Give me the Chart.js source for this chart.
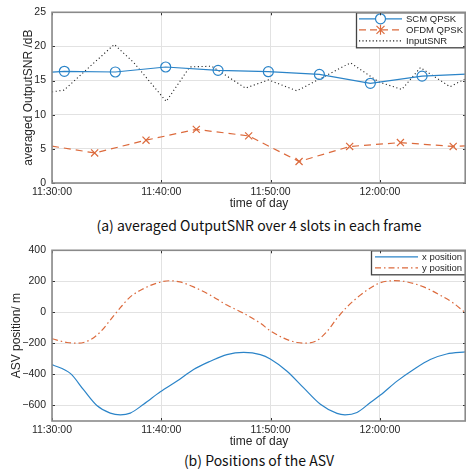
<!DOCTYPE html>
<html>
<head>
<meta charset="utf-8">
<script src="https://cdn.jsdelivr.net/npm/chart.js@4.4.0/dist/chart.umd.min.js"></script>
<style>
  body { margin: 0; background: #fff; width: 466px; height: 469px; overflow: hidden; position: relative; }
  .box { position: absolute; left: 0; width: 466px; height: 212px; }
  #snrBox { top: 0; }
  #posBox { top: 238px; }
  .cap { position: absolute; left: 52px; width: 414px; text-align: center;
         font-family: "Noto Sans CJK JP", sans-serif; font-size: 14px; color: #111; line-height: 16px; }
</style>
</head>
<body>
<div class="box" id="snrBox"><canvas id="snrChart" width="466" height="212"></canvas></div>
<div class="cap" style="top:217px">(a) averaged OutputSNR over 4 slots in each frame</div>
<div class="box" id="posBox"><canvas id="posChart" width="466" height="212"></canvas></div>
<div class="cap" style="top:452px">(b) Positions of the ASV</div>
<script>
// Time axis (minutes after 11:30:00)
const timeTicks = [0, 10, 20, 30];
const timeLabels = ['11:30:00', '11:40:00', '11:50:00', '12:00:00'];
const timeMax = 37.87;

// (a) averaged OutputSNR
const scmTime = [0, 1.13, 5.79, 10.4, 15.19, 19.79, 24.46, 29.12, 33.85, 37.87];
const scmSnr = [16.25, 16.36, 16.26, 16.99, 16.5, 16.3, 15.9, 14.6, 15.65, 15.95];
const ofdmTime = [0, 3.9, 8.6, 13.2, 17.99, 22.6, 27.23, 31.87, 36.7, 37.87];
const ofdmSnr = [5.4, 4.4, 6.27, 7.85, 6.9, 3.15, 5.35, 5.92, 5.35, 5.45];
const inputTime = [0, 1.1, 5.7, 7.5, 10.45, 12.6, 14.6, 17.7, 19.8, 22.4, 24.2, 27.3, 29.9, 32.0, 33.7, 36.4, 37.87];
const inputSnr = [13.35, 13.6, 20.3, 17.6, 11.95, 17.0, 17.1, 13.9, 15.1, 13.5, 15.0, 17.6, 14.8, 13.7, 16.9, 14.1, 15.3];
const snrTicks = [0, 5, 10, 15, 20, 25];

// (b) ASV positions
const xPosTime = [0, 1.7, 2.9, 4.1, 5.33, 6.25, 7.16, 8.38, 9.91, 11.44, 12.95, 14.48, 16.0, 17.53, 19.06, 19.97, 21.5, 23.0, 24.55, 26.07, 26.8, 27.9, 29.12, 30.04, 31.56, 33.08, 34.6, 36.1, 37.87];
const xPos = [-336, -395, -500, -600, -649, -660, -649, -592, -512, -443, -368, -315, -272, -258, -272, -300, -379, -485, -592, -651, -660, -645, -581, -533, -443, -368, -304, -268, -255];
const yPosTime = [0, 1.37, 2.43, 3.5, 4.4, 5.33, 6.25, 7.16, 8.38, 9.6, 10.8, 11.7, 12.95, 14.48, 16.0, 17.53, 19.06, 19.97, 21.2, 22.4, 23.3, 24.2, 25.16, 26.07, 27.0, 28.2, 29.12, 30.04, 31.25, 32.5, 34.0, 35.5, 36.75, 37.87];
const yPos = [-170, -194, -198, -177, -128, -50, 30, 100, 153, 189, 204, 196, 164, 111, 47, -6, -70, -119, -166, -194, -198, -183, -123, -38, 36, 111, 157, 191, 204, 196, 164, 111, 58, -6];
const posTicks = [-600, -400, -200, 0, 200, 400];

const blue = '#2b84c8';
const orange = '#dc6a3c';
const textColor = '#262626';
const fontFamily = '"Liberation Sans", Arial, sans-serif';

Chart.defaults.font.family = fontFamily;
Chart.defaults.color = textColor;

const pairs = (xs, ys) => xs.map((x, i) => ({ x: x, y: ys[i] }));
const markerRadius = (n) => Array.from({ length: n }, (_, i) => (i === 0 || i === n - 1) ? 0 : 5);
const minus = (v) => v < 0 ? '\u2212' + Math.abs(v) : String(v);

// box around the plot with small inward ticks, plus the rotated y title
const framePlugin = {
  id: 'frame',
  afterDraw(chart, args, opts) {
    const { ctx, chartArea: a, scales } = chart;
    ctx.save();
    ctx.strokeStyle = '#333';
    ctx.lineWidth = 1;
    timeTicks.forEach(v => {
      const px = Math.round(scales.x.getPixelForValue(v)) + 0.5;
      ctx.beginPath();
      ctx.moveTo(px, a.bottom); ctx.lineTo(px, a.bottom - 3);
      ctx.moveTo(px, a.top); ctx.lineTo(px, a.top + 3);
      ctx.stroke();
    });
    scales.y.ticks.forEach(t => {
      const py = Math.round(scales.y.getPixelForValue(t.value)) + 0.5;
      ctx.beginPath();
      ctx.moveTo(a.left, py); ctx.lineTo(a.left + 3, py);
      ctx.moveTo(a.right, py); ctx.lineTo(a.right - 3, py);
      ctx.stroke();
    });
    ctx.strokeStyle = '#8a8a8a';
    ctx.lineWidth = 1.6;
    ctx.strokeRect(a.left, a.top, a.right - a.left - 0.8, a.bottom - a.top);
    if (opts.yTitle) {
      ctx.translate(a.left - opts.yTitleOffset, (a.top + a.bottom) / 2);
      ctx.rotate(-Math.PI / 2);
      ctx.font = '12px ' + fontFamily;
      ctx.fillStyle = textColor;
      ctx.textAlign = 'center';
      ctx.textBaseline = 'middle';
      ctx.fillText(opts.yTitle, 0, 0);
    }
    ctx.restore();
  }
};

// legend box in the top right corner of the plot
const boxLegendPlugin = {
  id: 'boxLegend',
  afterDatasetsDraw(chart, args, opts) {
    if (!opts.items) return;
    const { ctx, chartArea: a } = chart;
    const w = opts.width, h = opts.items.length * 11 + 3;
    const x0 = a.right - w, y0 = a.top;
    ctx.save();
    ctx.fillStyle = '#fff';
    ctx.fillRect(x0, y0, w, h);
    ctx.strokeStyle = '#444';
    ctx.lineWidth = 1.3;
    ctx.strokeRect(x0 + 0.5, y0 + 0.5, w - 1, h - 1);
    ctx.font = '9.5px ' + fontFamily;
    ctx.textBaseline = 'middle';
    opts.items.forEach((it, i) => {
      const y = y0 + 6.5 + i * 11;
      const l1 = x0 + opts.lineStart, l2 = x0 + opts.lineEnd;
      ctx.strokeStyle = it.color;
      ctx.lineWidth = it.width || 1.2;
      ctx.setLineDash(it.dash || []);
      ctx.beginPath(); ctx.moveTo(l1, y); ctx.lineTo(l2, y); ctx.stroke();
      ctx.setLineDash([]);
      const mx = (l1 + l2) / 2;
      if (it.marker === 'circle') {
        ctx.fillStyle = '#fff';
        ctx.beginPath(); ctx.arc(mx, y, 5, 0, Math.PI * 2); ctx.fill(); ctx.stroke();
      } else if (it.marker === 'star') {
        ctx.beginPath();
        ctx.moveTo(mx - 4, y - 4); ctx.lineTo(mx + 4, y + 4);
        ctx.moveTo(mx - 4, y + 4); ctx.lineTo(mx + 4, y - 4);
        ctx.moveTo(mx, y - 5); ctx.lineTo(mx, y + 5);
        ctx.stroke();
      }
      ctx.fillStyle = textColor;
      ctx.fillText(it.text, l2 + 4, y + 0.5);
    });
    ctx.restore();
  }
};

function timeAxis() {
  return {
    type: 'linear',
    min: 0,
    max: timeMax,
    afterBuildTicks: s => { s.ticks = timeTicks.map(v => ({ value: v })); },
    afterFit: s => { s.height = 29; },
    ticks: {
      autoSkip: false, maxRotation: 0, padding: 3,
      font: { size: 10.5 },
      callback: v => timeLabels[timeTicks.indexOf(v)]
    },
    grid: { color: '#e2e2e2', drawTicks: false },
    border: { display: false },
    title: { display: true, text: 'time of day', font: { size: 12 }, padding: { top: 0, bottom: 1 } }
  };
}

const snrChart = new Chart(document.getElementById('snrChart'), {
  type: 'line',
  data: {
    datasets: [
      {
        label: 'SCM QPSK', data: pairs(scmTime, scmSnr),
        borderColor: blue, borderWidth: 1.2,
        pointStyle: 'circle', pointRadius: markerRadius(scmTime.length),
        pointBorderColor: blue, pointBackgroundColor: 'rgba(0,0,0,0)', pointBorderWidth: 1.2
      },
      {
        label: 'OFDM QPSK', data: pairs(ofdmTime, ofdmSnr),
        borderColor: orange, borderWidth: 1.2, borderDash: [7, 5],
        pointStyle: 'crossRot', pointRadius: markerRadius(ofdmTime.length),
        pointBorderColor: orange, pointBorderWidth: 1.2
      },
      {
        label: 'InputSNR', data: pairs(inputTime, inputSnr),
        borderColor: '#222', borderWidth: 1.1, borderDash: [1.1, 2.6],
        pointRadius: 0
      }
    ]
  },
  options: {
    responsive: false, animation: false, devicePixelRatio: 1,
    layout: { padding: { left: 18, top: 11, right: 0, bottom: 0 } },
    elements: { line: { tension: 0, fill: false } },
    plugins: {
      legend: { display: false }, tooltip: { enabled: false },
      frame: { yTitle: 'averaged OutputSNR /dB', yTitleOffset: 23 },
      boxLegend: {
        width: 110, lineStart: 3, lineEnd: 46,
        items: [
          { text: 'SCM QPSK', color: blue, marker: 'circle' },
          { text: 'OFDM QPSK', color: orange, dash: [7, 4], marker: 'star' },
          { text: 'InputSNR', color: '#222', dash: [1.2, 2.2] }
        ]
      }
    },
    scales: {
      x: timeAxis(),
      y: {
        min: 0, max: 25,
        afterBuildTicks: s => { s.ticks = snrTicks.map(v => ({ value: v })); },
        afterFit: s => { s.width = 34; },
        ticks: { padding: 6, font: { size: 10.5 } },
        grid: { color: '#e2e2e2', drawTicks: false },
        border: { display: false }
      }
    }
  },
  plugins: [boxLegendPlugin, framePlugin]
});

const posChart = new Chart(document.getElementById('posChart'), {
  type: 'line',
  data: {
    datasets: [
      {
        label: 'x position', data: pairs(xPosTime, xPos),
        borderColor: blue, borderWidth: 1.2, pointRadius: 0
      },
      {
        label: 'y position', data: pairs(yPosTime, yPos),
        borderColor: orange, borderWidth: 1.2, borderDash: [6, 3, 1.5, 3], pointRadius: 0
      }
    ]
  },
  options: {
    responsive: false, animation: false, devicePixelRatio: 1,
    layout: { padding: { left: 6, top: 11.5, right: 0, bottom: 0 } },
    elements: { line: { cubicInterpolationMode: 'monotone', fill: false } },
    plugins: {
      legend: { display: false }, tooltip: { enabled: false },
      frame: { yTitle: 'ASV position/ m', yTitleOffset: 35 },
      boxLegend: {
        width: 95, lineStart: 4, lineEnd: 47,
        items: [
          { text: 'x position', color: blue },
          { text: 'y position', color: orange, dash: [6, 3, 1.5, 3] }
        ]
      }
    },
    scales: {
      x: timeAxis(),
      y: {
        min: -700, max: 400,
        afterBuildTicks: s => { s.ticks = posTicks.map(v => ({ value: v })); },
        afterFit: s => { s.width = 46; },
        ticks: { padding: 6, font: { size: 10.5 }, callback: v => minus(v) },
        grid: { color: '#e2e2e2', drawTicks: false },
        border: { display: false }
      }
    }
  },
  plugins: [boxLegendPlugin, framePlugin]
});
</script>
</body>
</html>
